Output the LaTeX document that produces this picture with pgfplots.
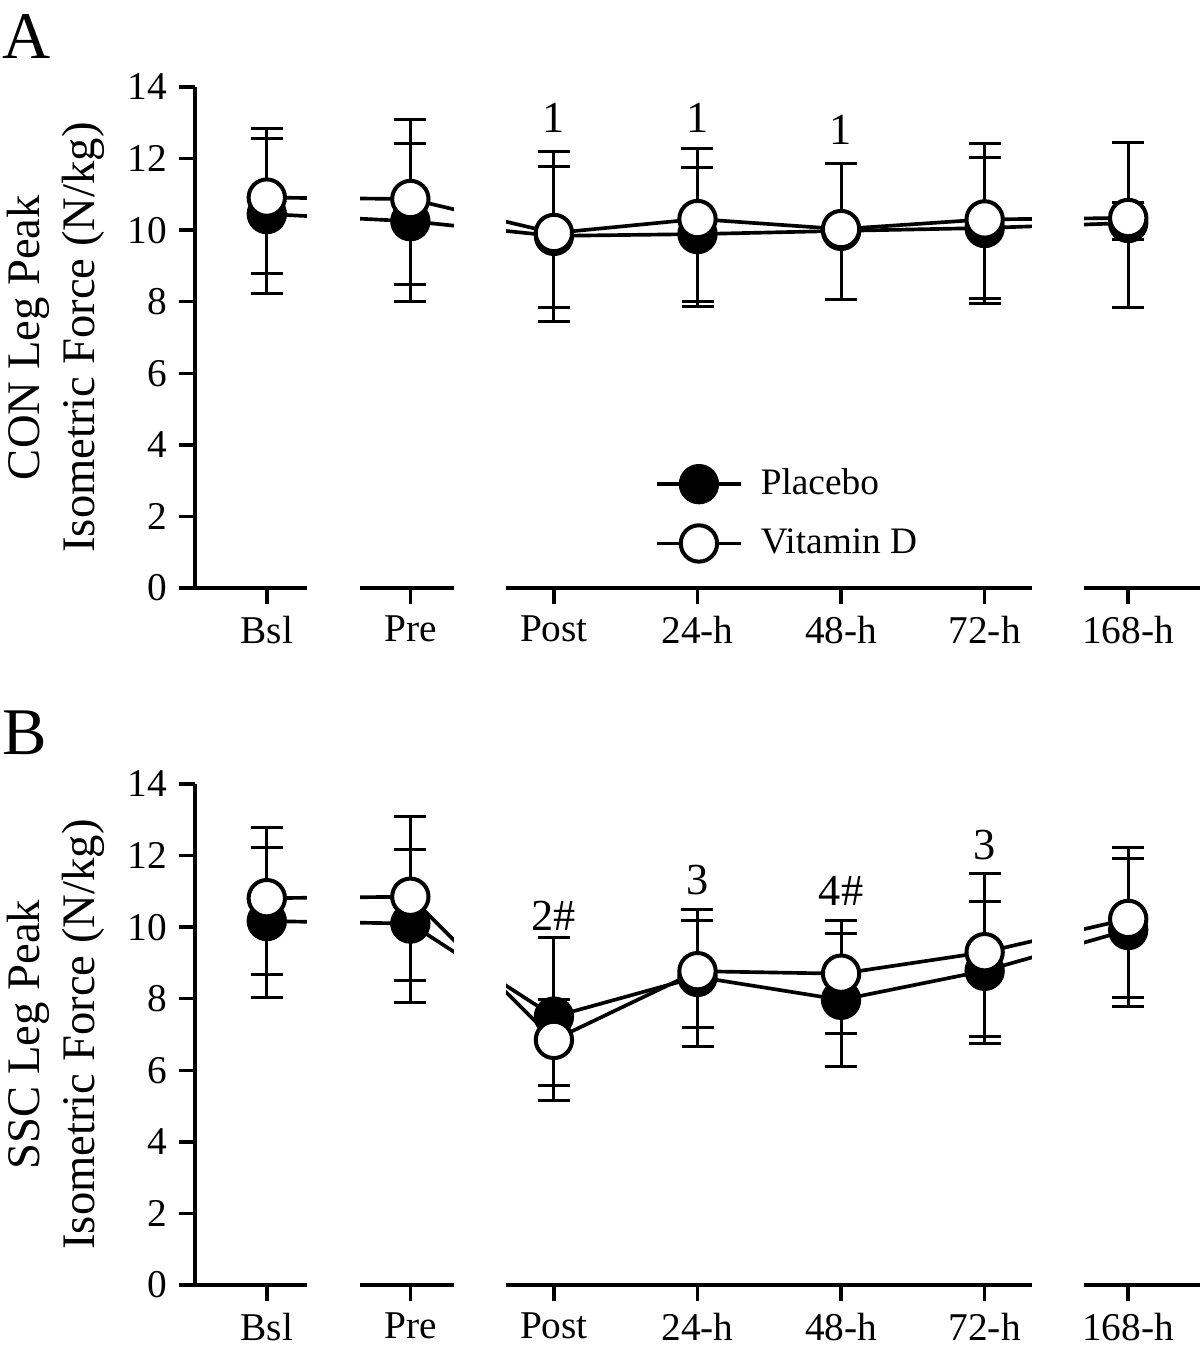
\documentclass[border=0pt]{standalone}
\usepackage{pgfplots}
\pgfplotsset{compat=1.18}
\usepackage{pgfplotstable}
\usepackage{fontspec}
\setmainfont{Liberation Serif}

% x: 0=Bsl 1=Pre 2=Post 3=24-h 4=48-h 5=72-h 6=168-h
\pgfplotstableread{
x P Pp Pm V Vp Vm
0 10.45 2.12 2.21 10.91 1.94 2.11
1 10.25 2.16 2.23 10.87 2.21 2.40
2 9.84 2.37 2.38 9.92 1.87 2.07
3 9.89 1.87 1.87 10.31 1.98 2.43
4 9.98 1.89 1.91 10.03 1.84 1.96
5 10.06 1.98 2.10 10.30 2.13 2.20
6 10.20 0.58 0.45 10.34 2.12 2.49
}\dataA

\pgfplotstableread{
x P Pp Pm V Vp Vm
0 10.17 2.06 2.13 10.81 1.98 2.13
1 10.10 2.08 2.21 10.85 2.23 2.34
2 7.50 2.20 2.34 6.85 1.13 1.27
3 8.61 1.58 1.94 8.77 1.71 1.58
4 7.97 1.84 1.85 8.70 1.49 1.67
5 8.78 1.94 2.04 9.30 2.20 2.35
6 9.92 2.01 2.14 10.23 2.00 2.19
}\dataB

\pgfplotsset{
  panel/.style={
    scale only axis, width=301.5pt, height=150.3pt,
    xmin=-0.5, xmax=6.5, ymin=0, ymax=14,
    clip=false,
    axis y line*=left, axis x line*=bottom,
    axis line style={line width=1.05pt, black},
    x axis line style={draw=none},
    tick align=outside,
    major tick length=4.8pt,
    tick style={line width=1.05pt, black},
    xtick={0,...,6},
    xticklabels={Bsl,Pre,Post,24-h,48-h,72-h,168-h},
    ytick={0,2,...,14},
    /pgf/number format/assume math mode=true,
    ticklabel style={font=\fontsize{11.8}{14}\selectfont},
    ylabel style={align=center, font=\fontsize{14}{16.5}\selectfont,
      inner sep=0pt, at={(axis description cs:-0.0896,0.5)}, anchor=south, rotate=0},
  },
  lineplot/.style={black, line width=1.1pt, mark=none, forget plot,
    error bars/.cd, y dir=both, y explicit,
    error bar style={line width=0.9pt, black},
    error mark options={line width=0.9pt, mark size=4.8pt, black, rotate=90}},
  pmark/.style={only marks, mark=*, mark size=5.5pt,
    mark options={fill=black, draw=black, line width=1.1pt}},
  vmark/.style={only marks, mark=*, mark size=5.45pt,
    mark options={fill=white, draw=black, line width=1.2pt}},
}

\newcommand{\annot}{\fontsize{13.3}{15}\selectfont}

\begin{document}
\begin{tikzpicture}
% ---------- Panel A ----------
\begin{axis}[panel, at={(58.5pt,-176.4pt)}, anchor=south west,
  ylabel={CON Leg Peak\\Isometric Force (N/kg)},
  legend style={draw=none, fill=none, at={(axis cs:2.707,3.52)}, anchor=north west,
    font=\fontsize{11.2}{13}\selectfont, inner sep=0pt, outer sep=0pt,
    row sep=4.7pt, column sep=3.5pt, nodes={inner sep=2pt}},
  legend cell align=left,
  legend image code/.code={
    \draw[black, line width=1.1pt] (0pt,0pt) -- (25pt,0pt);
    \draw[mark repeat=2, mark phase=2, #1] plot coordinates {(0pt,0pt) (12.5pt,0pt) (25pt,0pt)};
  },
]
\addplot[lineplot] table[x=x, y=P, y error plus=Pp, y error minus=Pm] {\dataA};
\addplot[lineplot] table[x=x, y=V, y error plus=Vp, y error minus=Vm] {\dataA};
\fill[white] (axis cs:0.28,0.15) rectangle (axis cs:0.65,13.9);
\fill[white] (axis cs:1.305,0.15) rectangle (axis cs:1.667,13.9);
\fill[white] (axis cs:5.33,0.15) rectangle (axis cs:5.693,13.9);
\addplot[pmark] table[x=x, y=P] {\dataA};
\addlegendentry{Placebo}
\addplot[vmark] table[x=x, y=V] {\dataA};
\addlegendentry{Vitamin D}
\draw[line width=1.05pt] (axis cs:-0.614,0) -- (axis cs:0.28,0);
\draw[line width=1.05pt] (axis cs:0.65,0) -- (axis cs:1.305,0);
\draw[line width=1.05pt] (axis cs:1.667,0) -- (axis cs:5.33,0);
\draw[line width=1.05pt] (axis cs:5.693,0) -- (axis cs:6.5,0);
\node[font=\annot] at (axis cs:2,13.13) {1};
\node[font=\annot] at (axis cs:3,13.15) {1};
\node[font=\annot] at (axis cs:4,12.8) {1};
\end{axis}

% ---------- Panel B ----------
\begin{axis}[panel, at={(58.5pt,-385.5pt)}, anchor=south west,
  ylabel={SSC Leg Peak\\Isometric Force (N/kg)},
]
\addplot[lineplot] table[x=x, y=P, y error plus=Pp, y error minus=Pm] {\dataB};
\addplot[lineplot] table[x=x, y=V, y error plus=Vp, y error minus=Vm] {\dataB};
\fill[white] (axis cs:0.28,0.15) rectangle (axis cs:0.65,13.9);
\fill[white] (axis cs:1.305,0.15) rectangle (axis cs:1.667,13.9);
\fill[white] (axis cs:5.33,0.15) rectangle (axis cs:5.693,13.9);
\addplot[pmark] table[x=x, y=P] {\dataB};
\addplot[vmark] table[x=x, y=V] {\dataB};
\draw[line width=1.05pt] (axis cs:-0.614,0) -- (axis cs:0.28,0);
\draw[line width=1.05pt] (axis cs:0.65,0) -- (axis cs:1.305,0);
\draw[line width=1.05pt] (axis cs:1.667,0) -- (axis cs:5.33,0);
\draw[line width=1.05pt] (axis cs:5.693,0) -- (axis cs:6.5,0);
\node[font=\annot] at (axis cs:2,10.33) {2\#};
\node[font=\annot] at (axis cs:3,11.32) {3};
\node[font=\annot] at (axis cs:4,11.02) {4\#};
\node[font=\annot] at (axis cs:5,12.30) {3};
\end{axis}

\node[anchor=base west, inner sep=0pt, font=\fontsize{20}{22}\selectfont] at (0.5pt,-17.4pt) {A};
\node[anchor=base west, inner sep=0pt, font=\fontsize{20}{22}\selectfont] at (0.5pt,-226.2pt) {B};

\pgfresetboundingbox
\useasboundingbox (0pt,0pt) rectangle (360pt,-404.4pt);
\end{tikzpicture}
\end{document}
